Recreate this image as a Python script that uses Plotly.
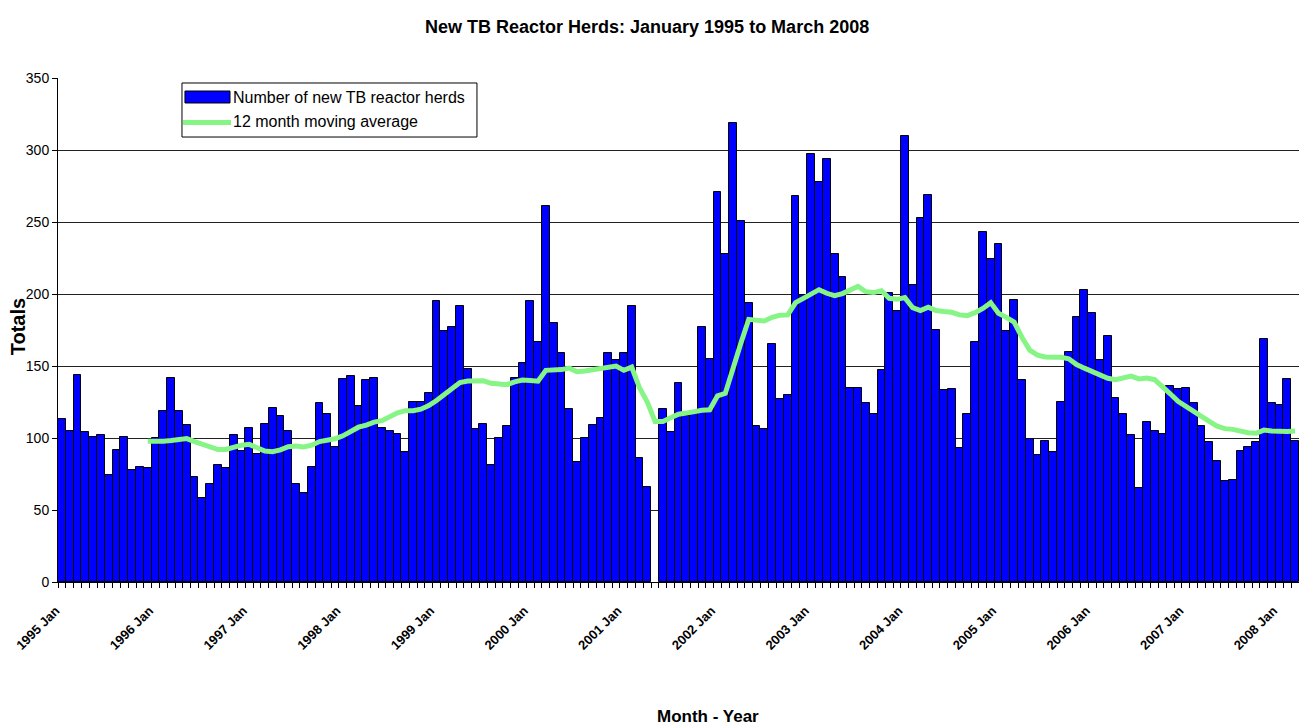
import plotly.graph_objects as go

# Monthly counts, Jan 1995 .. Mar 2008 (May 2001 missing)
herds_1995 = [113, 105, 144, 104, 101, 102, 74, 92, 101, 78, 80, 79]
herds_1996 = [100, 119, 142, 119, 109, 73, 58, 68, 81, 79, 102, 91]
herds_1997 = [107, 89, 110, 121, 115, 105, 68, 62, 80, 124, 117, 94]
herds_1998 = [141, 143, 122, 140, 142, 107, 105, 103, 90, 125, 125, 131]
herds_1999 = [195, 174, 177, 192, 148, 106, 110, 81, 100, 108, 142, 152]
herds_2000 = [195, 167, 261, 180, 159, 120, 83, 100, 109, 114, 159, 154]
herds_2001 = [159, 192, 86, 66, None, 120, 104, 138, 115, 119, 177, 155]
herds_2002 = [271, 228, 319, 251, 194, 108, 106, 165, 127, 130, 268, 199]
herds_2003 = [297, 278, 294, 228, 212, 135, 135, 124, 117, 147, 201, 188]
herds_2004 = [310, 206, 253, 269, 175, 133, 134, 93, 117, 167, 243, 224]
herds_2005 = [235, 174, 196, 140, 99, 88, 98, 90, 125, 160, 184, 203]
herds_2006 = [187, 154, 171, 128, 117, 102, 65, 111, 105, 103, 136, 134]
herds_2007 = [135, 124, 108, 97, 84, 70, 71, 91, 94, 97, 169, 124]
herds_2008 = [123, 141, 98]

# 12 month moving average
mavg_1995 = [None] * 11 + [97.7]
mavg_1996 = [97.5, 97.8, 98.2, 99, 99.6, 97.5, 95.6, 93.5, 92, 92, 93.5, 95]
mavg_1997 = [95.6, 93.5, 91, 90.5, 91.8, 94, 94.5, 93.8, 95, 97.5, 98.5, 99.5]
mavg_1998 = [101.5, 105, 107.5, 109, 111, 112, 115, 117.5, 119, 119, 120, 122.5]
mavg_1999 = [126, 130, 134, 138.5, 139.5, 139.5, 139.7, 138, 137.5, 137, 139, 140.3]
mavg_2000 = [140, 139.5, 147, 147, 147.5, 148.5, 146, 146.5, 147.5, 148.5, 149.6, 150]
mavg_2001 = [147, 149.2, 135, 125, 111.5, 111.5, 114, 116.5, 117.3, 118.5, 119.2, 119.6]
mavg_2002 = [129.3, 131, 150, 166, 182.4, 182, 181.3, 183.8, 185.3, 185.5, 194, 197]
mavg_2003 = [200, 203, 200.5, 198.8, 200.3, 203, 205.3, 201.6, 201, 202.3, 197, 196.3]
mavg_2004 = [197.5, 190.5, 188.5, 190.8, 188.5, 187.8, 187.3, 185.5, 185, 187, 190, 194]
mavg_2005 = [186.6, 183.8, 180.5, 170, 161, 157.5, 156.3, 156, 156, 155, 151, 148.5]
mavg_2006 = [146, 144, 141.5, 140.5, 141.5, 143, 141, 141.6, 140.5, 136, 130.7, 125.5]
mavg_2007 = [122, 118, 114, 111.5, 108.2, 106.5, 106, 104.8, 103.7, 103.3, 105.5, 104.8]
mavg_2008 = [104.3, 104.6, 104.8]

years = list(range(1995, 2009))
month_names = ['Jan', 'Feb', 'Mar', 'Apr', 'May', 'Jun',
               'Jul', 'Aug', 'Sep', 'Oct', 'Nov', 'Dec']

herds = (herds_1995 + herds_1996 + herds_1997 + herds_1998 + herds_1999 + herds_2000
         + herds_2001 + herds_2002 + herds_2003 + herds_2004 + herds_2005 + herds_2006
         + herds_2007 + herds_2008)
mavg = (mavg_1995 + mavg_1996 + mavg_1997 + mavg_1998 + mavg_1999 + mavg_2000
        + mavg_2001 + mavg_2002 + mavg_2003 + mavg_2004 + mavg_2005 + mavg_2006
        + mavg_2007 + mavg_2008)

labels = [f'{y} {m}' for y in years for m in month_names][:len(herds)]
x = list(range(len(herds)))
tick_pos = [i for i, lab in enumerate(labels) if lab.endswith('Jan')]
tick_txt = [labels[i] for i in tick_pos]

FONT = 'Liberation Sans, Arial, sans-serif'
BAR_NAME = 'Number of new TB reactor herds'
LINE_NAME = '12 month moving average'
BLUE = '#0000FF'
GREEN = '#86F586'

fig = go.Figure()
fig.add_bar(x=x, y=herds, name=BAR_NAME, width=1, showlegend=False,
            customdata=labels, hovertemplate='%{customdata}: %{y}<extra></extra>',
            marker=dict(color=BLUE, line=dict(color='black', width=1)))
fig.add_scatter(x=x, y=mavg, mode='lines', name=LINE_NAME, showlegend=False,
                customdata=labels, hovertemplate='%{customdata}: %{y}<extra></extra>',
                line=dict(color=GREEN, width=5))

fig.update_layout(
    width=1299, height=726,
    margin=dict(l=58, r=0, t=78, b=144),
    paper_bgcolor='white', plot_bgcolor='white',
    bargap=0,
    font=dict(family=FONT, color='black', size=12),
    showlegend=False,
)

fig.update_xaxes(
    range=[-0.5, len(herds) - 0.5], automargin=False,
    tickmode='array', tickvals=tick_pos, ticktext=tick_txt,
    tickangle=-45, ticks='', ticklabelstandoff=15, ticklabelshift=-6,
    tickfont=dict(size=13, family=FONT, weight='bold'),
    showline=True, linecolor='black', linewidth=1,
    showgrid=False, zeroline=False,
    minor=dict(tickmode='array', tickvals=[i - 0.5 for i in range(len(herds) + 1)],
               ticks='outside', ticklen=5, tickcolor='black', tickwidth=1, showgrid=False),
)
fig.update_yaxes(
    range=[0, 350], dtick=50, automargin=False,
    showgrid=True, gridcolor='#222222', gridwidth=1,
    showline=True, linecolor='black', linewidth=1,
    ticks='outside', ticklen=5, tickcolor='black',
    tickfont=dict(size=14, family=FONT), zeroline=False,
)

# titles
fig.add_annotation(text='<b>New TB Reactor Herds: January 1995 to March 2008</b>',
                   xref='paper', yref='paper', x=0.475, y=1.101,
                   xanchor='center', yanchor='middle', showarrow=False,
                   font=dict(size=18, family=FONT))
fig.add_annotation(text='<b>Totals</b>', xref='paper', yref='paper',
                   x=-0.032, y=0.506, xanchor='center', yanchor='middle',
                   textangle=-90, showarrow=False,
                   font=dict(size=20, family=FONT))
fig.add_annotation(text='<b>Month - Year</b>', xref='paper', yref='paper',
                   x=0.524, y=-0.266, xanchor='center', yanchor='middle',
                   showarrow=False, font=dict(size=17, family=FONT))

# legend box drawn like the original (wide swatches)
fig.add_shape(type='rect', xref='paper', yref='paper', x0=0.0999, x1=0.3376,
              y0=0.8829, y1=0.9901, line=dict(color='black', width=1), fillcolor='white')
fig.add_shape(type='rect', xref='paper', yref='paper', x0=0.1023, x1=0.1386,
              y0=0.9504, y1=0.9742, line=dict(color='black', width=1), fillcolor=BLUE)
fig.add_shape(type='line', xref='paper', yref='paper', x0=0.1007, x1=0.1394,
              y0=0.9117, y1=0.9117, line=dict(color=GREEN, width=5))
fig.add_annotation(text=BAR_NAME, xref='paper', yref='paper', x=0.1394, y=0.9623,
                   xanchor='left', yanchor='middle', showarrow=False,
                   font=dict(size=16, family=FONT))
fig.add_annotation(text=LINE_NAME, xref='paper', yref='paper', x=0.1394, y=0.9127,
                   xanchor='left', yanchor='middle', showarrow=False,
                   font=dict(size=16, family=FONT))

fig.write_html('out.html', config={'displayModeBar': False},
               post_script="document.body.style.margin='0';")
